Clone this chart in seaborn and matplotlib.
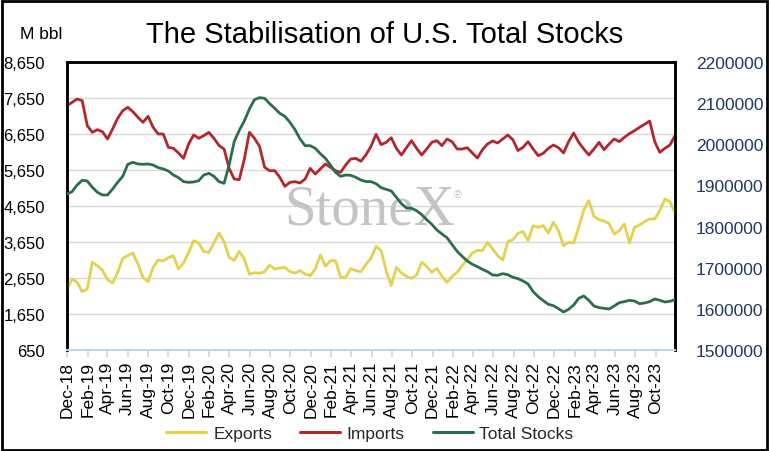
import matplotlib
matplotlib.use("Agg")
import matplotlib.pyplot as plt
import matplotlib.dates as mdates
from matplotlib.lines import Line2D
from matplotlib.patches import Rectangle
from matplotlib.ticker import FuncFormatter
import pandas as pd
import seaborn as sns

sns.set_theme(style="white")
plt.rcParams["font.family"] = ["Liberation Sans", "DejaVu Sans"]

# half-monthly readings, Dec-18 .. end Nov-23
dates = pd.date_range("2018-12-01", "2023-11-28", periods=121)

exports = [2344, 2622, 2529, 2270, 2344, 3085, 2992, 2863, 2603, 2511,
           2807, 3196, 3270, 3344, 3039, 2668, 2548, 2946, 3150, 3122,
           3215, 3270, 2900, 3067, 3363, 3687, 3622, 3381, 3363, 3622,
           3900, 3659, 3224, 3140, 3390, 3177, 2751, 2798, 2779, 2826,
           3011, 2900, 2927, 2946, 2826, 2789, 2853, 2761, 2714, 2900,
           3289, 2974, 3131, 3131, 2668, 2668, 2918, 2853, 2826, 3025,
           3196, 3529, 3409, 2844, 2437, 2946, 2788, 2696, 2640, 2733,
           3085, 2974, 2807, 2918, 2696, 2529, 2696, 2807, 2992, 3159,
           3344, 3418, 3409, 3641, 3455, 3270, 3150, 3659, 3715, 3890,
           3937, 3687, 4103, 4057, 4103, 3900, 4196, 3964, 3548, 3641,
           3622, 4057, 4548, 4800, 4363, 4270, 4233, 4159, 3872, 3964,
           4149, 3622, 4057, 4122, 4215, 4289, 4289, 4520, 4844, 4770,
           4455]

imports = [7437, 7530, 7622, 7576, 6881, 6696, 6770, 6715, 6511, 6789,
           7085, 7298, 7391, 7270, 7113, 6974, 7141, 6835, 6650, 6650,
           6280, 6252, 6122, 5974, 6372, 6622, 6530, 6604, 6696, 6530,
           6330, 6233, 5696, 5400, 5381, 5955, 6696, 6530, 6307, 5724,
           5631, 5631, 5446, 5196, 5307, 5326, 5289, 5400, 5696, 5539,
           5678, 5817, 5724, 5631, 5585, 5789, 5955, 5974, 5890, 6070,
           6307, 6641, 6354, 6418, 6548, 6252, 6067, 6270, 6465, 6252,
           6067, 6233, 6418, 6465, 6326, 6511, 6437, 6233, 6233, 6270,
           6122, 5983, 6215, 6372, 6456, 6400, 6511, 6622, 6493, 6190,
           6280, 6437, 6233, 6048, 6113, 6252, 6344, 6270, 6122, 6437,
           6678, 6418, 6233, 6067, 6233, 6418, 6215, 6372, 6511, 6437,
           6557, 6659, 6743, 6835, 6918, 7011, 6437, 6141, 6252, 6344,
           6604]

total_stocks = [1879190, 1884860, 1901070, 1912420, 1910790, 1895400, 1883250, 1876760, 1876760, 1891350,
                1907550, 1922140, 1951300, 1956170, 1952120, 1951300, 1952120, 1949680, 1943200, 1939960,
                1935090, 1925370, 1918890, 1909170, 1907550, 1908360, 1911600, 1925370, 1929420, 1922140,
                1909170, 1905120, 1949680, 2006400, 2033950, 2056630, 2085800, 2108480, 2113340, 2111720,
                2098750, 2087410, 2075250, 2067960, 2053380, 2035550, 2012880, 1996660, 1996660, 1990190,
                1977220, 1965880, 1949680, 1931860, 1922140, 1925370, 1924560, 1919710, 1913210, 1909500,
                1909170, 1904310, 1894580, 1890540, 1886480, 1871100, 1855690, 1845160, 1844350, 1838670,
                1828950, 1816790, 1805470, 1791680, 1781960, 1773040, 1756030, 1739830, 1727680, 1716330,
                1708240, 1702560, 1696090, 1690400, 1682300, 1681490, 1685530, 1683100, 1676640, 1673500,
                1667720, 1660430, 1641790, 1629640, 1619910, 1611010, 1607750, 1600460, 1592370, 1598850,
                1609380, 1625590, 1631260, 1620730, 1606950, 1602890, 1601290, 1599660, 1606950, 1615050,
                1617480, 1620730, 1619100, 1612620, 1614240, 1617480, 1623970, 1620730, 1616670, 1618290,
                1622340]

left_ticks = [650, 1650, 2650, 3650, 4650, 5650, 6650, 7650, 8650]
right_ticks = [1500000, 1600000, 1700000, 1800000, 1900000, 2000000, 2100000, 2200000]

c_exp = "#E3D24E"
c_imp = "#B3262C"
c_tot = "#2C6E4C"
c_axis_blue = "#BDD7EE"

fig = plt.figure(figsize=(7.69, 4.52), dpi=100)
ax = fig.add_axes([67 / 769, 101 / 452, 608 / 769, 288 / 452])
ax2 = ax.twinx()

sns.lineplot(x=dates, y=exports, ax=ax, color=c_exp, lw=2.0, legend=False, zorder=3)
sns.lineplot(x=dates, y=imports, ax=ax, color=c_imp, lw=2.0, legend=False, zorder=3)
sns.lineplot(x=dates, y=total_stocks, ax=ax2, color=c_tot, lw=2.0, legend=False, zorder=3)

ax.set_xlim(dates[0], dates[-1])
ax.set_ylim(650, 8650)
ax.set_yticks(left_ticks)
ax.yaxis.set_major_formatter(FuncFormatter(lambda v, p: f"{v:,.0f}"))
ax.yaxis.grid(True, color="#D9D9D9", lw=1)
ax.xaxis.grid(False)
ax.set_xlabel("")
ax.set_ylabel("")

ax.xaxis.set_major_locator(mdates.MonthLocator(bymonth=[2, 4, 6, 8, 10, 12]))
ax.xaxis.set_major_formatter(mdates.DateFormatter("%b-%y"))
ax.tick_params(axis="x", bottom=True, direction="out", length=5, width=1.2,
               color=c_axis_blue, labelsize=12.5, labelcolor="black", pad=3, labelrotation=90)
ax.tick_params(axis="y", left=False, labelsize=12, labelcolor="black", pad=10)

ax2.set_ylim(1500000, 2200000)
ax2.set_yticks(right_ticks)
ax2.yaxis.set_major_formatter(FuncFormatter(lambda v, p: f"{v:.0f}"))
ax2.tick_params(axis="y", right=False, labelsize=12.5, labelcolor="#1F3864", pad=9)
ax2.set_ylabel("")
ax2.grid(False)

for a in (ax, ax2):
    for side in ("left", "top", "right"):
        a.spines[side].set_color("black")
        a.spines[side].set_linewidth(1.8)
    a.spines["bottom"].set_color(c_axis_blue)
    a.spines["bottom"].set_linewidth(1.5)

# watermark
ax.text(0.497, 0.44, "StoneX", transform=ax.transAxes, ha="center", va="baseline",
        fontsize=41, color="#C4C4C4", family=["Liberation Serif", "DejaVu Serif"], zorder=1)
ax.text(0.643, 0.54, "\u00ae", transform=ax.transAxes, ha="center", va="center",
        fontsize=8, color="#C4C4C4", zorder=1)

fig.text(0.5006, (452 - 43) / 452, "The Stabilisation of U.S. Total Stocks",
         ha="center", va="baseline", fontsize=21, color="black")
fig.text(20 / 769, (452 - 39) / 452, "M bbl", ha="left", va="baseline", fontsize=12.5, color="black")

handles = [Line2D([], [], color=c_exp, lw=2.2),
           Line2D([], [], color=c_imp, lw=2.2),
           Line2D([], [], color=c_tot, lw=2.2)]
fig.legend(handles, ["Exports", "Imports", "Total Stocks"], loc="center",
           bbox_to_anchor=(370 / 769, (452 - 434) / 452), ncol=3, frameon=False,
           fontsize=12.5, handlelength=2.3, handletextpad=0.4, columnspacing=1.6)

fig.add_artist(Rectangle((0.002, 0.003), 0.995, 0.993, transform=fig.transFigure,
                         fill=False, ec="black", lw=2))

fig.savefig("out.png", dpi=100)
